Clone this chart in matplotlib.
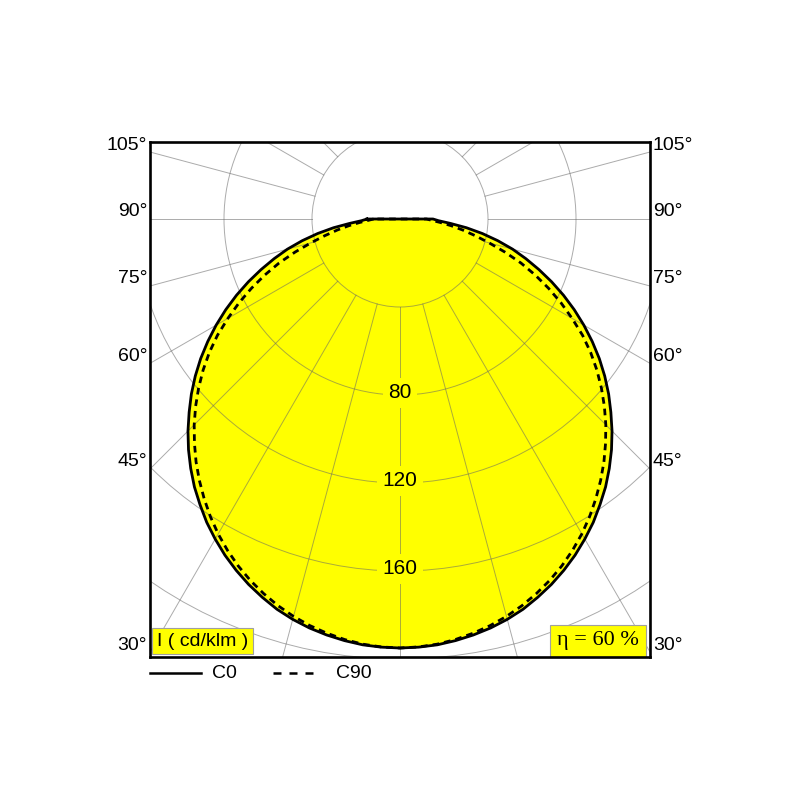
"""light distribution curve C0 / C90"""
import numpy as np
import matplotlib
matplotlib.use('Agg')
import matplotlib.pyplot as plt
from matplotlib.patches import Circle
from matplotlib.lines import Line2D

plt.rcParams['font.family'] = ['Liberation Sans', 'DejaVu Sans']

# gamma angles (deg) and intensities in cd/klm
angles = [0, 2.5, 5, 7.5, 10, 12.5, 15, 17.5, 20, 22.5, 25, 27.5, 30, 32.5, 35,
          37.5, 40, 42.5, 45, 47.5, 50, 52.5, 55, 57.5, 60, 62.5, 65, 67.5, 70,
          72.5, 75, 77.5, 80, 82.5, 85, 87.5, 90]
c0 = [195, 194.8, 194.3, 193.3, 192, 190.4, 188.4, 186, 183, 179.8, 176.2,
      172.3, 168, 163.5, 158.5, 153.5, 148, 142.3, 136.3, 130, 123.8, 117.3,
      110.6, 103.6, 96.5, 89.3, 82, 74.6, 67.2, 60, 53, 45.5, 38, 30.5, 23,
      17.5, 15]
c90 = [195, 194.7, 194, 192.8, 191.2, 189.3, 187, 184.3, 181.2, 177.8, 174,
       169.8, 165.3, 160.4, 155.2, 149.8, 144.2, 138.3, 132.3, 126, 119.5, 112.8,
       105.8, 98.4, 90.3, 82.5, 74.5, 66.5, 58.5, 50, 42, 35, 29, 23.5, 18.5,
       14.5, 12]

grid_radii = [40, 80, 120, 160, 200, 240]
radius_labels = [80, 120, 160]
side_angles = [30, 45, 60, 75, 90, 105]
spoke_angles = list(range(0, 180, 15))

SCALE = 2.2  # px per cd/klm
XMAX = 250 / SCALE
YMIN = -(657 - 219) / SCALE
YMAX = (219 - 142) / SCALE


def curve(values):
    """full curve, both halves, closed across the top"""
    a = np.radians(angles)
    v = np.array(values, dtype=float)
    xl = -v * np.sin(a)
    yl = -v * np.cos(a)
    x = np.concatenate([xl[::-1], -xl[1:]])
    y = np.concatenate([yl[::-1], yl[1:]])
    x = np.append(x, x[0])
    y = np.append(y, y[0])
    return x, y


fig = plt.figure(figsize=(8, 8), dpi=100)
ax = fig.add_axes([150 / 800, 143 / 800, 500 / 800, 515 / 800])
ax.set_xlim(-XMAX, XMAX)
ax.set_ylim(YMIN, YMAX)
ax.set_aspect('equal')
ax.set_xticks([])
ax.set_yticks([])
for s in ax.spines.values():
    s.set_linewidth(1.9)
    s.set_zorder(10)

x0, y0 = curve(c0)
x90, y90 = curve(c90)
ax.fill(x0, y0, color='#ffff00', zorder=1, lw=0)

# grid
gcol = '#666666'
for r in grid_radii:
    ax.add_patch(Circle((0, 0), r, fill=False, ec=gcol, lw=0.7, alpha=0.55, zorder=2))
for a in spoke_angles:
    t = np.radians(a)
    for sgn in ([1] if a == 0 else [-1, 1]):
        ax.plot([sgn * 40 * np.sin(t), sgn * 400 * np.sin(t)],
                [-40 * np.cos(t), -400 * np.cos(t)],
                color=gcol, lw=0.7, alpha=0.55, zorder=2)

ax.plot(x0, y0, color='black', lw=2.0, zorder=5, solid_joinstyle='round')
ax.plot(x90, y90, color='black', lw=2.0, zorder=5, dashes=(2.4, 1.8))

for r in radius_labels:
    ax.text(0, -r + 1, str(r), ha='center', va='center', fontsize=15, zorder=6,
            bbox=dict(boxstyle='square,pad=0.25', fc='#ffff00', ec='none'))

for a in side_angles:
    t = np.radians(a)
    y = -XMAX * np.cos(t) / np.sin(t) + 7 / SCALE
    lab = f'{a}°'
    ax.text(-XMAX - 1.3, y, lab, ha='right', va='center', fontsize=14, clip_on=False)
    ax.text(XMAX + 1.3, y, lab, ha='left', va='center', fontsize=14, clip_on=False)

ax.text((157 - 150) / 500, 1 - (641 - 142) / 515, 'I ( cd/klm )', transform=ax.transAxes,
        ha='left', va='center', fontsize=14, zorder=8,
        bbox=dict(boxstyle='square,pad=0.25', fc='#ffff00', ec='#a0a0a0', lw=0.8))
ax.text((639 - 150) / 500, 1 - (641 - 142) / 515, 'η = 60 %', transform=ax.transAxes,
        ha='right', va='center', fontsize=16, family=['Liberation Serif', 'DejaVu Serif'],
        zorder=8,
        bbox=dict(boxstyle='square,pad=0.3', fc='#ffff00', ec='#a0a0a0', lw=0.8))

# legend under the frame
ly = (800 - 673) / 800
fig.add_artist(Line2D([150 / 800, 201 / 800], [ly, ly], color='black', lw=1.8))
fig.text(212 / 800, ly, 'C0', ha='left', va='center', fontsize=14)
fig.add_artist(Line2D([273 / 800, 320 / 800], [ly, ly], color='black', lw=1.8,
                      dashes=(3.2, 3.2)))
fig.text(336 / 800, ly, 'C90', ha='left', va='center', fontsize=14)

fig.savefig('out.png', dpi=100, facecolor='white')
